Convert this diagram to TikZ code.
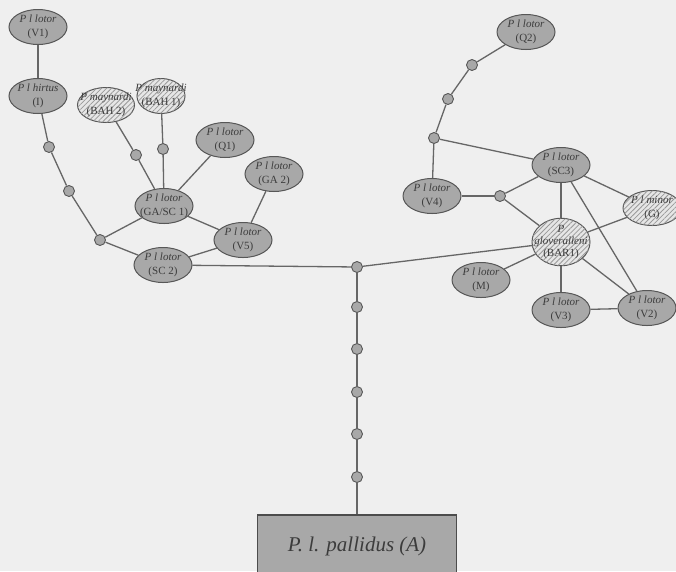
\documentclass[tikz,border=0pt]{standalone}
\usepackage{fontspec}
\setmainfont{Liberation Serif}
\usetikzlibrary{shapes.geometric,patterns.meta}
\definecolor{bgc}{HTML}{EFEFEF}
\definecolor{nodefill}{HTML}{A8A8A8}
\definecolor{edgec}{HTML}{666666}
\definecolor{txtc}{HTML}{3C3C3C}
\definecolor{hatchbg}{HTML}{E6E6E6}
\newcommand{\lbl}[2]{\makebox[0pt]{\itshape #1}\\\makebox[0pt]{#2}}
\tikzset{
  taxon/.style={ellipse,draw=edgec!85!black,line width=1pt,fill=nodefill,
    minimum width=58pt,minimum height=35pt,inner sep=0pt,align=center,
    font=\fontsize{11}{14}\selectfont,text=txtc},
  hatched/.style={taxon,fill=hatchbg,
    postaction={pattern={Lines[angle=45,distance=3.5pt,line width=0.8pt]},pattern color=gray!80}},
  dot/.style={circle,draw=edgec!85!black,line width=0.9pt,fill=nodefill,
    minimum width=11pt,minimum height=11pt,inner sep=0pt},
  link/.style={draw=edgec,line width=1.3pt},
  rootbox/.style={rectangle,draw=edgec!75!black,line width=1.1pt,fill=nodefill,
    minimum width=199pt,minimum height=62pt,inner sep=0pt,
    font=\fontsize{21}{24}\selectfont\itshape,text=txtc}
}
\begin{document}
\begin{tikzpicture}[x=1pt,y=-1pt]
\clip (0,0) rectangle (676,571);
\fill[bgc] (0,0) rectangle (676,571);
% taxa
\node[taxon] (V1) at (38,27) {\lbl{P l lotor}{(V1)}};
\node[taxon] (hirt) at (38,96) {\lbl{P l hirtus}{(I)}};
\node[hatched,minimum width=57pt] (BAH2) at (106,105) {\lbl{P maynardi}{(BAH 2)}};
\node[hatched,minimum width=48pt] (BAH1) at (161,96) {\lbl{P maynardi}{(BAH 1)}};
\node[taxon] (Q1) at (225,140) {\lbl{P l lotor}{(Q1)}};
\node[taxon] (GA2) at (274,174) {\lbl{P l lotor}{(GA 2)}};
\node[taxon] (GASC1) at (164,206) {\lbl{P l lotor}{(GA/SC 1)}};
\node[taxon] (V5) at (243,240) {\lbl{P l lotor}{(V5)}};
\node[taxon] (SC2) at (163,265) {\lbl{P l lotor}{(SC 2)}};
\node[taxon] (Q2) at (526,32) {\lbl{P l lotor}{(Q2)}};
\node[taxon] (SC3) at (561,165) {\lbl{P l lotor}{(SC3)}};
\node[taxon] (V4) at (432,196) {\lbl{P l lotor}{(V4)}};
\node[hatched,font=\fontsize{11}{12}\selectfont] (BAR1) at (561,242) {\makebox[0pt]{\itshape P}\\\lbl{gloveralleni}{(BAR1)}};
\node[hatched] (G) at (652,208) {\lbl{P l minor}{(G)}};
\node[taxon] (M) at (481,280) {\lbl{P l lotor}{(M)}};
\node[taxon] (V3) at (561,310) {\lbl{P l lotor}{(V3)}};
\node[taxon] (V2) at (647,308) {\lbl{P l lotor}{(V2)}};
\node[rootbox] (A) at (357,546) {P. l. pallidus (A)};
% intermediate haplotypes
\node[dot] (a1) at (49,147) {};
\node[dot] (a2) at (69,191) {};
\node[dot] (a3) at (100,240) {};
\node[dot] (b1) at (136,155) {};
\node[dot] (b2) at (163,149) {};
\node[dot] (J) at (357,267) {};
\node[dot] (c1) at (357,307) {};
\node[dot] (c2) at (357,349) {};
\node[dot] (c3) at (357,392) {};
\node[dot] (c4) at (357,434) {};
\node[dot] (c5) at (357,477) {};
\node[dot] (q1) at (472,65) {};
\node[dot] (q2) at (448,99) {};
\node[dot] (q3) at (434,138) {};
\node[dot] (r1) at (500,196) {};
% connectors
\path[link] (V1) -- (hirt);
\path[link] (hirt) -- (a1);
\path[link] (a1) -- (a2);
\path[link] (a2) -- (a3);
\path[link] (a3) -- (GASC1);
\path[link] (a3) -- (SC2);
\path[link] (BAH2) -- (b1);
\path[link] (b1) -- (GASC1);
\path[link] (BAH1) -- (b2);
\path[link] (b2) -- (GASC1);
\path[link] (Q1) -- (GASC1);
\path[link] (GASC1) -- (V5);
\path[link] (GA2) -- (V5);
\path[link] (V5) -- (SC2);
\path[link] (SC2) -- (J);
\path[link] (J) -- (BAR1);
\path[link] (J) -- (c1);
\path[link] (c1) -- (c2);
\path[link] (c2) -- (c3);
\path[link] (c3) -- (c4);
\path[link] (c4) -- (c5);
\path[link] (c5) -- (A);
\path[link] (Q2) -- (q1);
\path[link] (q1) -- (q2);
\path[link] (q2) -- (q3);
\path[link] (q3) -- (V4);
\path[link] (q3) -- (SC3);
\path[link] (SC3) -- (r1);
\path[link] (V4) -- (r1);
\path[link] (r1) -- (BAR1);
\path[link] (SC3) -- (BAR1);
\path[link] (SC3) -- (G);
\path[link] (SC3) -- (V2);
\path[link] (BAR1) -- (G);
\path[link] (BAR1) -- (V2);
\path[link] (BAR1) -- (V3);
\path[link] (BAR1) -- (M);
\path[link] (V3) -- (V2);
\end{tikzpicture}
\end{document}
